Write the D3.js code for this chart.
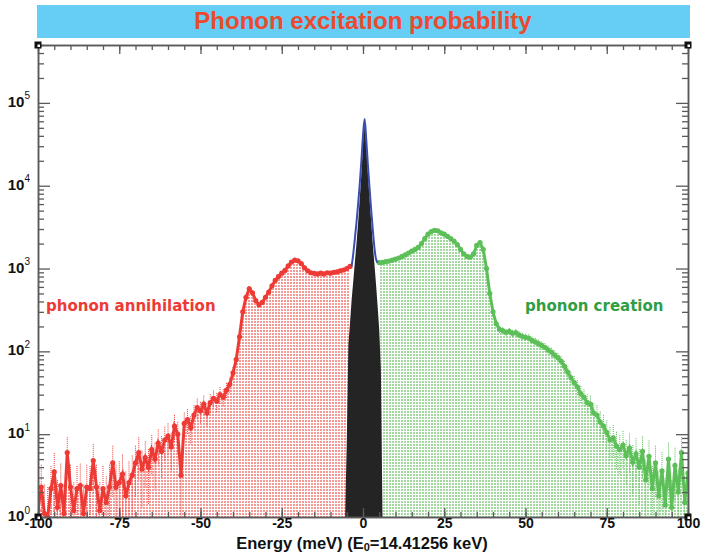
<!DOCTYPE html>
<html>
<head>
<meta charset="utf-8">
<script src="https://cdn.jsdelivr.net/npm/d3@7"></script>
<style>
  body { margin: 0; background: #fff; }
  svg { display: block; }
</style>
</head>
<body>
<div id="chart"></div>
<script>
// energy grid (meV) and counts
const annEnergy = d3.range(-100, -3, 1)
const annCounts = [
  1.2, 2.3, 1.1, 1.0, 2.2, 3.5, 1.3, 2.4, 1.1, 6.0,
  2.3, 1.2, 2.2, 2.4, 1.1, 2.3, 2.2, 4.8, 2.3, 1.2,
  2.2, 1.5, 2.3, 4.5, 2.3, 2.6, 3.3, 1.8, 2.6, 3.2,
  4.5, 6.0, 3.8, 5.2, 4.0, 6.5, 5.0, 7.8, 6.2, 8.5,
  9.5, 7.0, 12.5, 10.0, 3.2, 13.5, 15.0, 12.0, 17.0, 21.0,
  19.0, 23.0, 18.0, 24.0, 27.0, 25.0, 30.0, 28.0, 34.0, 40.0,
  55, 80, 150, 300, 450, 570, 510, 410, 365, 390,
  450, 520, 620, 720, 800, 880, 950, 1080, 1200, 1260,
  1240, 1150, 1020, 940, 890, 875, 860, 880, 860, 890,
  880, 900, 910, 940, 960, 1000, 1060
]

const creEnergy = d3.range(5, 101, 1)
const creCounts = [
  1180, 1190, 1210, 1230, 1260, 1300, 1340, 1400, 1460, 1540,
  1620, 1700, 1800, 2000, 2300, 2600, 2800, 2900, 2850, 2700,
  2600, 2450, 2300, 2150, 1950, 1700, 1500, 1400, 1370, 1500,
  1900, 2050, 1700, 1000, 500, 300, 215, 185, 178, 170,
  174, 165, 168, 158, 152, 148, 145, 136, 130, 124,
  118, 112, 104, 98, 90, 84, 76, 66, 56, 48,
  42, 37, 31, 28, 24, 23, 18, 17, 14, 12.5,
  10.5, 8.5, 9.0, 7.2, 6.5, 7.4, 5.5, 6.8, 4.6, 5.8,
  4.0, 6.2, 2.8, 5.4, 2.2, 4.5, 1.8, 3.6, 1.4, 5.0,
  1.3, 4.2, 2.0, 6.0, 1.5, 3.4
]

const elasticEnergy = d3.range(-6, 6.75, 0.5)
const elasticCounts = [
  1, 1, 8, 120, 220, 420, 700, 1200, 2000, 3600,
  7000, 14000, 32000, 66000, 30000, 14000, 7200, 3800, 2000, 1150,
  650, 350, 180, 60, 1, 1
]

const fitEnergy = d3.range(-3.5, 4.75, 0.5)
const fitCounts = [
  1060, 1500, 2300, 3600, 6000, 10500, 20000, 40000, 64000, 36000,
  18000, 9500, 5200, 3000, 1800, 1300, 1180
]

const xTicks = [-100, -75, -50, -25, 0, 25, 50, 75, 100]
const yTicks = [1, 10, 100, 1000, 10000, 100000]

const width = 704
const height = 555
const margin = { top: 45, right: 16, bottom: 38, left: 38 }
const boundWidth = width - margin.left - margin.right
const boundHeight = height - margin.top - margin.bottom

const red = '#ee3a35'
const green = '#5cbf58'

const svg = d3.select('#chart').append('svg')
  .attr('width', width)
  .attr('height', height)
  .attr('viewBox', [0, 0, width, height])

const defs = svg.append('defs')
const pattern = (id, color) => {
  const p = defs.append('pattern')
    .attr('id', id)
    .attr('patternUnits', 'userSpaceOnUse')
    .attr('width', 3).attr('height', 3)
  p.append('rect').attr('width', 3).attr('height', 3).attr('fill', '#fff')
  p.append('rect').attr('width', 2).attr('height', 2).attr('fill', color)
}
pattern('redDots', '#f49a96')
pattern('greenDots', '#a3d9a0')
defs.append('clipPath').attr('id', 'clip')
  .append('rect').attr('width', boundWidth).attr('height', boundHeight)

// title bar
svg.append('rect')
  .attr('x', 37).attr('y', 5).attr('width', 653).attr('height', 33)
  .attr('fill', '#66cdf4')
svg.append('text')
  .attr('x', 363).attr('y', 29)
  .attr('text-anchor', 'middle')
  .attr('font-family', 'Liberation Sans, Arial, sans-serif')
  .attr('font-weight', 'bold')
  .attr('font-size', 24)
  .attr('fill', '#ec4a2e')
  .text('Phonon excitation probability')

const x = d3.scaleLinear().domain([-100, 100]).range([0, boundWidth])
const y = d3.scaleLog().domain([1, 5e5]).range([boundHeight, 0]).clamp(true)

const bounds = svg.append('g')
  .attr('transform', `translate(${margin.left}, ${margin.top})`)
const plot = bounds.append('g').attr('clip-path', 'url(#clip)')

const series = [
  { e: annEnergy, c: annCounts, color: red, fill: 'url(#redDots)' },
  { e: creEnergy, c: creCounts, color: green, fill: 'url(#greenDots)' }
]

series.forEach(s => {
  const pts = s.e.map((e, i) => ({ e, c: s.c[i] }))
  const area = d3.area().x(d => x(d.e)).y0(boundHeight).y1(d => y(d.c))
  plot.append('path').datum(pts).attr('d', area).attr('fill', s.fill)

  // Poisson error bars, dotted
  plot.append('g').selectAll('line').data(pts).join('line')
    .attr('x1', d => x(d.e)).attr('x2', d => x(d.e))
    .attr('y1', d => y(d.c + 1.3 * Math.sqrt(d.c)))
    .attr('y2', d => y(Math.max(1, d.c - 1.3 * Math.sqrt(d.c))))
    .attr('stroke', s.color)
    .attr('stroke-width', 1)
    .attr('stroke-dasharray', '1,1')

  const line = d3.line().x(d => x(d.e)).y(d => y(d.c))
  plot.append('path').datum(pts).attr('d', line)
    .attr('fill', 'none').attr('stroke', s.color).attr('stroke-width', 3)
  plot.append('g').selectAll('circle').data(pts).join('circle')
    .attr('cx', d => x(d.e)).attr('cy', d => y(d.c)).attr('r', 2.6)
    .attr('fill', s.color)
})

// elastic peak
const elastic = elasticEnergy.map((e, i) => ({ e, c: elasticCounts[i] }))
plot.append('path').datum(elastic)
  .attr('d', d3.area().x(d => x(d.e)).y0(boundHeight).y1(d => y(d.c)))
  .attr('fill', '#242424')

const fit = fitEnergy.map((e, i) => ({ e, c: fitCounts[i] }))
plot.append('path').datum(fit)
  .attr('d', d3.line().curve(d3.curveMonotoneX).x(d => x(d.e)).y(d => y(d.c)))
  .attr('fill', 'none').attr('stroke', '#3a4fb0').attr('stroke-width', 2)

// labels inside plot
bounds.append('text')
  .attr('x', 8).attr('y', 266)
  .attr('font-family', 'DejaVu Sans, sans-serif').attr('font-weight', 'bold')
  .attr('font-size', 15).attr('fill', red)
  .text('phonon annihilation')
bounds.append('text')
  .attr('x', 487).attr('y', 266)
  .attr('font-family', 'DejaVu Sans, sans-serif').attr('font-weight', 'bold')
  .attr('font-size', 15).attr('fill', '#2f9e44')
  .text('phonon creation')

// axes
const axisColor = '#5a5a5a'
const minorX = d3.range(-100, 101, 5)
const minorY = []
yTicks.forEach(t => { for (let k = 2; k <= 9; k++) if (t * k <= 5e5) minorY.push(t * k) })

const styleAxis = g => {
  g.select('.domain').attr('stroke', axisColor).attr('stroke-width', 1.5)
  g.selectAll('.tick line').attr('stroke', axisColor).attr('stroke-width', 1.3)
}

bounds.append('g').attr('transform', `translate(0, ${boundHeight})`)
  .call(d3.axisBottom(x).tickValues(minorX).tickSize(-5).tickSizeOuter(0).tickFormat(''))
  .call(styleAxis)
bounds.append('g').attr('transform', `translate(0, ${boundHeight})`)
  .call(d3.axisBottom(x).tickValues(xTicks).tickSize(-9).tickSizeOuter(0).tickPadding(1)
    .tickFormat(d => String(d)))
  .call(styleAxis)
  .call(g => g.selectAll('.tick text')
    .attr('font-family', 'Liberation Sans, Arial, sans-serif')
    .attr('font-weight', 'bold').attr('font-size', 14).attr('fill', '#111'))

bounds.append('g')
  .call(d3.axisTop(x).tickValues(minorX).tickSize(-5).tickSizeOuter(0).tickFormat(''))
  .call(styleAxis)
bounds.append('g')
  .call(d3.axisTop(x).tickValues(xTicks).tickSize(-9).tickSizeOuter(0).tickFormat(''))
  .call(styleAxis)

const leftMinor = d3.axisLeft(y).tickValues(minorY).tickSize(-6).tickSizeOuter(0).tickFormat('')
const rightMinor = d3.axisRight(y).tickValues(minorY).tickSize(-6).tickSizeOuter(0).tickFormat('')
bounds.append('g').call(leftMinor).call(styleAxis)
bounds.append('g').attr('transform', `translate(${boundWidth}, 0)`).call(rightMinor).call(styleAxis)
bounds.append('g').attr('transform', `translate(${boundWidth}, 0)`)
  .call(d3.axisRight(y).tickValues(yTicks).tickSize(-12).tickSizeOuter(0).tickFormat(''))
  .call(styleAxis)

bounds.append('g')
  .call(d3.axisLeft(y).tickValues(yTicks).tickSize(-12).tickSizeOuter(0).tickFormat(''))
  .call(styleAxis)
  .call(g => g.selectAll('.tick').append('text')
    .attr('x', -8).attr('dy', '0.36em')
    .attr('text-anchor', 'end')
    .attr('font-family', 'Liberation Sans, Arial, sans-serif')
    .attr('fill', '#111')
    .each(function (d) {
      const t = d3.select(this)
      t.append('tspan').attr('font-weight', 'bold').attr('font-size', 15).text('10')
      t.append('tspan').attr('font-size', 10).attr('dy', '-0.75em').text(Math.round(Math.log10(d)))
    }))

// corner markers
const corners = [[0, 0], [boundWidth, 0], [0, boundHeight], [boundWidth, boundHeight]]
bounds.append('g').selectAll('g').data(corners).join('g')
  .attr('transform', d => `translate(${d[0]}, ${d[1]})`)
  .call(g => g.append('rect').attr('x', -3.5).attr('y', -3.5).attr('width', 7).attr('height', 7).attr('fill', '#111'))
  .call(g => g.append('rect').attr('x', -0.5).attr('y', -0.5).attr('width', 2.5).attr('height', 2.5).attr('fill', '#fff'))

// x axis title
const title = svg.append('text')
  .attr('x', 362).attr('y', 549)
  .attr('text-anchor', 'middle')
  .attr('font-family', 'Liberation Sans, Arial, sans-serif')
  .attr('font-weight', 'bold').attr('font-size', 16.5).attr('fill', '#111')
title.append('tspan').text('Energy (meV) (E')
title.append('tspan').attr('font-size', 11).attr('dy', 2).text('0')
title.append('tspan').attr('dy', -2).text('=14.41256 keV)')
</script>
</body>
</html>
